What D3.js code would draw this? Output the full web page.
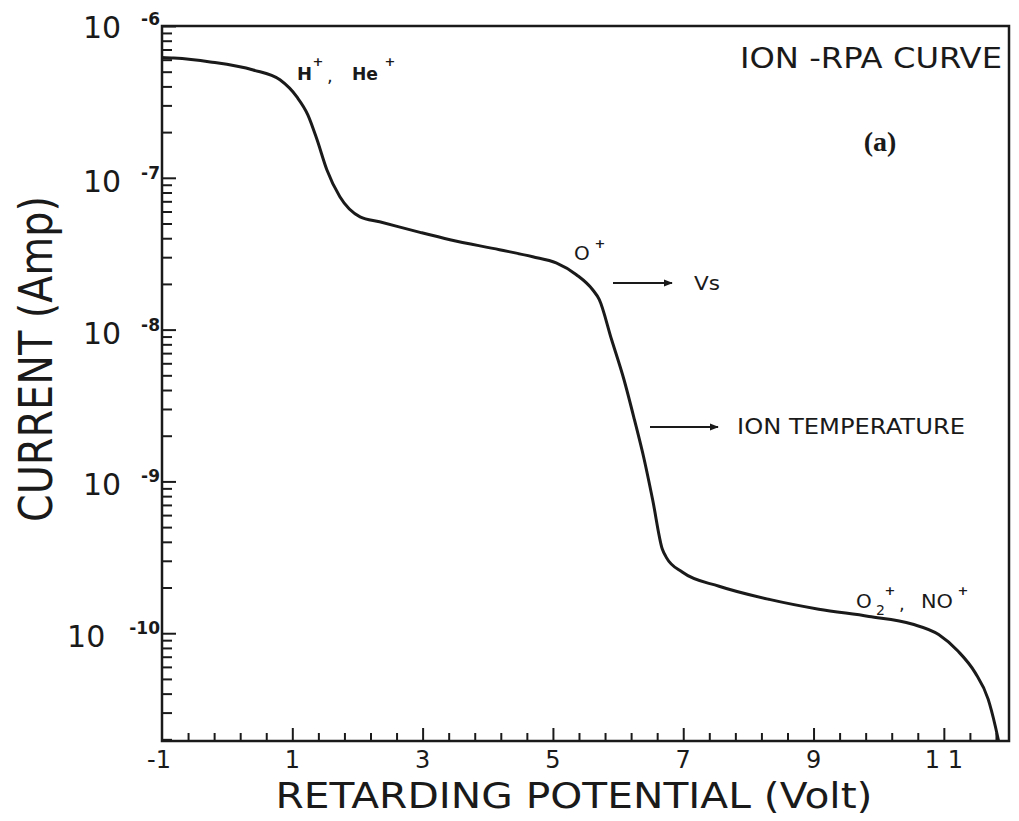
<!DOCTYPE html>
<html>
<head>
<meta charset="utf-8">
<script src="https://cdn.jsdelivr.net/npm/d3@7"></script>
<style>
  html, body { margin: 0; padding: 0; background: #fff; }
  svg { display: block; }
  text { fill: #1a1a1a; }
</style>
</head>
<body>
<script>
// ---- data ----
const voltage = [-1, -0.82, -0.26, 0.40, 0.81, 1.07, 1.24, 1.38, 1.53, 1.73, 2.04, 2.34, 2.96, 3.42, 4.18, 4.69, 5.05, 5.36, 5.61, 5.71, 5.90, 6.09, 6.25, 6.40, 6.53, 6.68, 6.74, 6.99, 7.55, 8.32, 9.08, 9.85, 10.51, 10.92, 11.22, 11.48, 11.68, 11.79, 11.84];
const current = [6.2e-7, 6.15e-7, 5.8e-7, 5.13e-7, 4.42e-7, 3.41e-7, 2.59e-7, 1.78e-7, 1.13e-7, 7.5e-8, 5.53e-8, 5.13e-8, 4.37e-8, 3.91e-8, 3.36e-8, 3.02e-8, 2.75e-8, 2.30e-8, 1.83e-8, 1.58e-8, 8.6e-9, 4.69e-9, 2.56e-9, 1.40e-9, 7.6e-10, 3.57e-10, 3.16e-10, 2.52e-10, 2.04e-10, 1.67e-10, 1.44e-10, 1.29e-10, 1.15e-10, 9.8e-11, 7.6e-11, 5.5e-11, 3.68e-11, 2.44e-11, 1.95e-11];
const xTickLabels = [-1, 1, 3, 5, 7, 9, 11];
const yDecadeExponents = [-6, -7, -8, -9, -10];

const W = 1019, H = 821;
const svg = d3.select("body").append("svg").attr("width", W).attr("height", H);

const x = d3.scaleLinear().domain([-1, 12]).range([162, 1009]);
const y = d3.scaleLog().domain([Math.pow(10, -10.71), 1e-6]).range([741, 26]);

const ink = "#1a1a1a";

// frame
svg.append("rect")
  .attr("x", x(-1)).attr("y", y(1e-6))
  .attr("width", x(12) - x(-1)).attr("height", y.range()[0] - y.range()[1])
  .attr("fill", "none").attr("stroke", ink).attr("stroke-width", 2.5);

// ---- x axis ticks (inward) ----
const xMinor = d3.range(-0.6, 11.9, 0.4).map(v => Math.round(v * 10) / 10).filter(v => !xTickLabels.includes(v));
const xAxisMinor = d3.axisBottom(x).tickValues(xMinor).tickSize(-8).tickFormat("");
const xAxisMajor = d3.axisBottom(x).tickValues(xTickLabels.filter(v => v !== -1)).tickSize(-13).tickFormat("");
[xAxisMinor, xAxisMajor].forEach(ax => {
  const g = svg.append("g").attr("transform", `translate(0,${y.range()[0]})`).call(ax);
  g.select(".domain").remove();
  g.selectAll(".tick text").remove();
  g.selectAll(".tick line").attr("stroke", ink).attr("stroke-width", 2);
});
// x tick labels
svg.append("g").selectAll("text").data(xTickLabels).join("text")
  .attr("x", d => x(d) + (d === -1 ? -3 : 0))
  .attr("y", 768)
  .attr("text-anchor", "middle")
  .attr("font-family", "DejaVu Sans, sans-serif")
  .attr("font-size", 24)
  .text(d => d === 11 ? "1 1" : (d < 0 ? "-" + Math.abs(d) : d));

// ---- y axis ticks (inward) ----
const yMinor = y.ticks().filter(v => {
  const m = v / Math.pow(10, Math.floor(Math.log10(v) + 1e-9));
  return Math.abs(m - 1) > 1e-6;
});
const yMajor = yDecadeExponents.map(e => Math.pow(10, e));
const yAxisMinor = d3.axisLeft(y).tickValues(yMinor).tickSize(-10).tickFormat("");
const yAxisMajor = d3.axisLeft(y).tickValues(yMajor).tickSize(-14).tickFormat("");
[yAxisMinor, yAxisMajor].forEach(ax => {
  const g = svg.append("g").attr("transform", `translate(${x(-1)},0)`).call(ax);
  g.select(".domain").remove();
  g.selectAll(".tick text").remove();
  g.selectAll(".tick line").attr("stroke", ink).attr("stroke-width", 2);
});
// y tick labels: 10 with superscript exponent
const yl = svg.append("g").selectAll("text").data(yDecadeExponents).join("text")
  .attr("x", 160)
  .attr("y", d => y(Math.pow(10, d)) + (d === -6 ? 12 : 14))
  .attr("text-anchor", "end")
  .attr("font-family", "DejaVu Sans, sans-serif")
  .attr("font-size", 30);
yl.append("tspan").text("10");
yl.append("tspan")
  .attr("dx", d => d === -10 ? 24 : 20)
  .attr("dy", -13)
  .attr("font-size", 17)
  .attr("font-weight", "bold")
  .text(d => "-" + Math.abs(d));

// ---- axis titles ----
svg.append("text")
  .attr("x", 574).attr("y", 808)
  .attr("text-anchor", "middle")
  .attr("font-family", "DejaVu Sans, sans-serif")
  .attr("font-size", 36)
  .attr("textLength", 597).attr("lengthAdjust", "spacingAndGlyphs")
  .text("RETARDING POTENTIAL (Volt)");

svg.append("text")
  .attr("transform", "translate(52,359) rotate(-90)")
  .attr("text-anchor", "middle")
  .attr("font-family", "DejaVu Sans, sans-serif")
  .attr("font-size", 46)
  .attr("textLength", 326).attr("lengthAdjust", "spacingAndGlyphs")
  .text("CURRENT (Amp)");

// ---- curve ----
svg.append("clipPath").attr("id", "plotclip").append("rect")
  .attr("x", x(-1)).attr("y", y(1e-6))
  .attr("width", x(12) - x(-1)).attr("height", y.range()[0] - y.range()[1]);

const pts = voltage.map((v, i) => [v, current[i]]);
const line = d3.line().x(d => x(d[0])).y(d => y(d[1])).curve(d3.curveMonotoneX);
svg.append("path")
  .attr("clip-path", "url(#plotclip)")
  .attr("d", line(pts))
  .attr("fill", "none").attr("stroke", ink).attr("stroke-width", 3)
  .attr("stroke-linejoin", "round").attr("stroke-linecap", "round");

// ---- annotations ----
const fontA = "DejaVu Sans, sans-serif";
function label(xp, yp, txt, size, opts = {}) {
  const t = svg.append("text").attr("x", xp).attr("y", yp)
    .attr("font-family", opts.family || fontA).attr("font-size", size)
    .attr("text-anchor", opts.anchor || "start");
  if (opts.weight) t.attr("font-weight", opts.weight);
  if (opts.len) t.attr("textLength", opts.len).attr("lengthAdjust", "spacingAndGlyphs");
  t.text(txt);
  return t;
}
function sup(xp, yp) { label(xp, yp, "+", 13, { weight: "bold", anchor: "middle" }); }

label(740, 68, "ION -RPA CURVE", 28, { len: 262 });
label(880, 151, "(a)", 28, { family: "Liberation Serif, serif", anchor: "middle", weight: "bold" });

// H+, He+
label(297, 80, "H", 18, { weight: "bold" });
sup(318, 66);
label(327, 82, ",", 18);
label(352, 80, "He", 18, { weight: "bold", len: 26 });
sup(390, 66);

// O+
label(574, 260, "O", 20);
sup(600, 248);

// arrows
const defs = svg.append("defs");
defs.append("marker").attr("id", "arr").attr("viewBox", "0 0 10 10")
  .attr("refX", 9).attr("refY", 5).attr("markerWidth", 9).attr("markerHeight", 9)
  .attr("markerUnits", "userSpaceOnUse").attr("orient", "auto")
  .append("path").attr("d", "M0,1 L10,5 L0,9 Z").attr("fill", ink);

svg.append("line").attr("x1", 613).attr("x2", 672).attr("y1", 283).attr("y2", 283)
  .attr("stroke", ink).attr("stroke-width", 2).attr("marker-end", "url(#arr)");
label(694, 290, "Vs", 20, { len: 26 });

svg.append("line").attr("x1", 650).attr("x2", 718).attr("y1", 427).attr("y2", 427)
  .attr("stroke", ink).attr("stroke-width", 2).attr("marker-end", "url(#arr)");
label(737, 434, "ION  TEMPERATURE", 21, { len: 228 });

// O2+, NO+
label(856, 608, "O", 20);
label(876, 615, "2", 14);
sup(890, 595);
label(899, 610, ",", 18);
label(921, 608, "NO", 20, { len: 32 });
sup(963, 595);
</script>
</body>
</html>
